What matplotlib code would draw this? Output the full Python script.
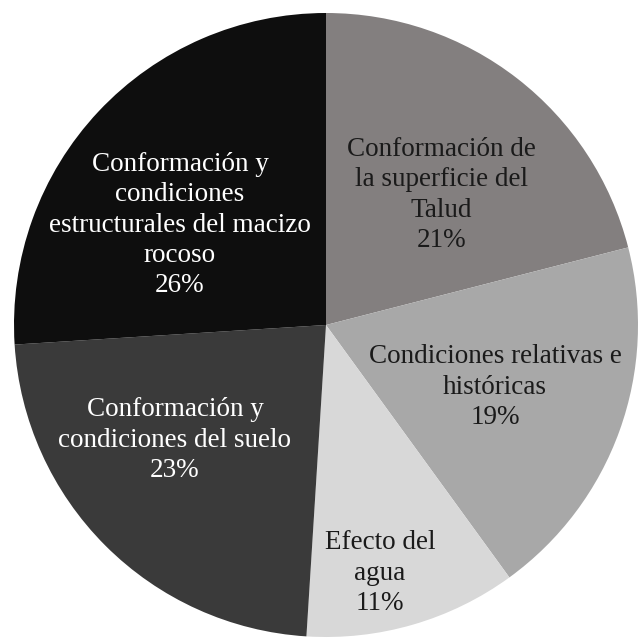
import matplotlib
matplotlib.use("Agg")
import matplotlib.pyplot as plt

categories = [
    "Conformación de\nla superficie del\nTalud",
    "Condiciones relativas e\nhistóricas",
    "Efecto del\nagua",
    "Conformación y\ncondiciones del suelo",
    "Conformación y\ncondiciones\nestructurales del macizo\nrocoso",
]
values = [21, 19, 11, 23, 26]

colors = ["#837f7f", "#a8a8a8", "#d8d8d8", "#3a3a3a", "#0e0e0e"]
text_colors = ["#1a1a1a", "#1a1a1a", "#1a1a1a", "#ffffff", "#ffffff"]
# label centres in data coords of the unit pie (layout)
label_pos = [(0.369, 0.417), (0.542, -0.199), (0.173, -0.795), (-0.484, -0.369), (-0.468, 0.32)]

W, H = 640, 641
fig = plt.figure(figsize=(W / 100, H / 100), dpi=100)
cx, cy, R = 326, 325, 312
ax = fig.add_axes([(cx - R) / W, 1 - (cy + R) / H, 2 * R / W, 2 * R / H])
ax.pie(values, colors=colors, startangle=90, counterclock=False, radius=1,
       wedgeprops=dict(linewidth=0))
ax.set_xlim(-1, 1)
ax.set_ylim(-1, 1)
ax.set_aspect("auto")
ax.axis("off")

for cat, v, (x, y), tc in zip(categories, values, label_pos, text_colors):
    ax.text(x, y, f"{cat}\n{v}%", ha="center", va="center", color=tc,
            fontsize=19.5, family="Liberation Serif", linespacing=1.28)

fig.savefig("out.png", dpi=100, facecolor="white")
